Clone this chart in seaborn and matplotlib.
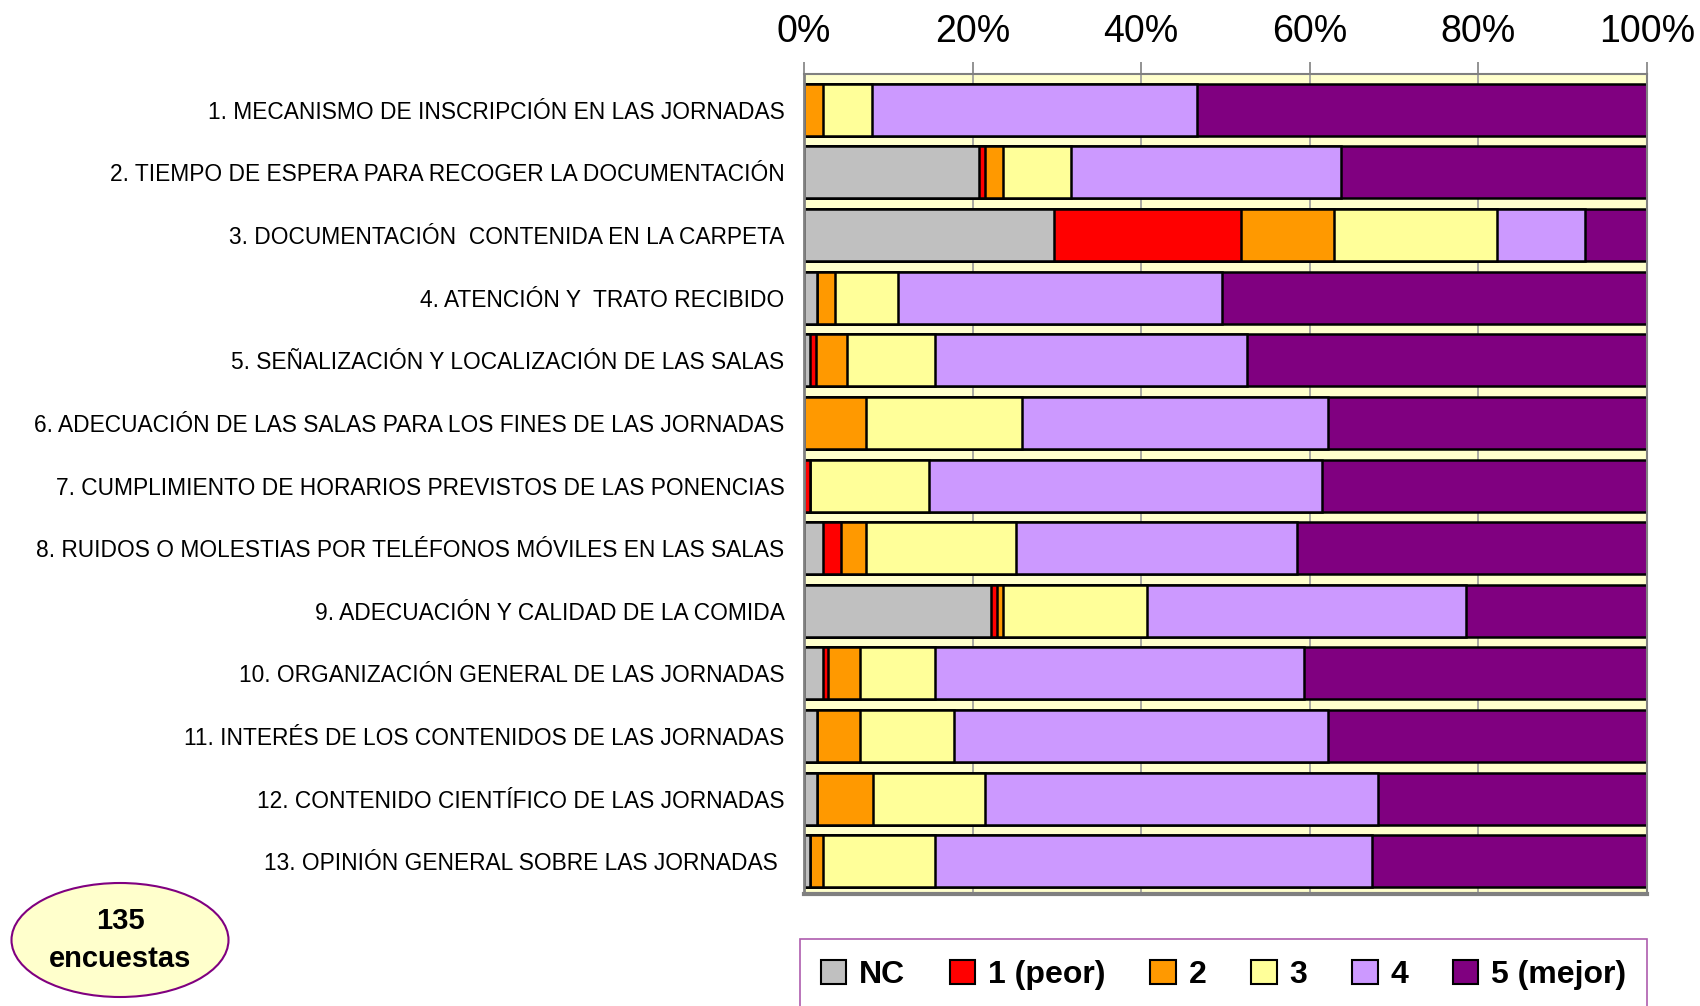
import numpy as np
import pandas as pd
import matplotlib.pyplot as plt
import seaborn as sns
from matplotlib.patches import Ellipse, Patch
from matplotlib.ticker import PercentFormatter

preguntas = [
    '1. MECANISMO DE INSCRIPCIÓN EN LAS JORNADAS',
    '2. TIEMPO DE ESPERA PARA RECOGER LA DOCUMENTACIÓN',
    '3. DOCUMENTACIÓN  CONTENIDA EN LA CARPETA',
    '4. ATENCIÓN Y  TRATO RECIBIDO',
    '5. SEÑALIZACIÓN Y LOCALIZACIÓN DE LAS SALAS',
    '6. ADECUACIÓN DE LAS SALAS PARA LOS FINES DE LAS JORNADAS',
    '7. CUMPLIMIENTO DE HORARIOS PREVISTOS DE LAS PONENCIAS',
    '8. RUIDOS O MOLESTIAS POR TELÉFONOS MÓVILES EN LAS SALAS',
    '9. ADECUACIÓN Y CALIDAD DE LA COMIDA',
    '10. ORGANIZACIÓN GENERAL DE LAS JORNADAS',
    '11. INTERÉS DE LOS CONTENIDOS DE LAS JORNADAS',
    '12. CONTENIDO CIENTÍFICO DE LAS JORNADAS',
    '13. OPINIÓN GENERAL SOBRE LAS JORNADAS ',
]

niveles = ['NC', '1 (peor)', '2', '3', '4', '5 (mejor)']
colores = ['#C0C0C0', '#FF0000', '#FF9900', '#FFFF99', '#CC99FF', '#800080']

# porcentajes (135 encuestas)
nc    = [0.0, 20.7, 29.6, 1.5, 0.7, 0.0, 0.0, 2.2, 22.2, 2.2, 1.5, 1.5, 0.7]
peor  = [0.0, 0.7, 22.2, 0.0, 0.7, 0.0, 0.7, 2.2, 0.7, 0.7, 0.0, 0.0, 0.0]
dos   = [2.2, 2.2, 11.1, 2.2, 3.7, 7.4, 0.0, 3.0, 0.7, 3.7, 5.2, 6.7, 1.5]
tres  = [5.9, 8.1, 19.3, 7.4, 10.4, 18.5, 14.1, 17.8, 17.0, 8.9, 11.1, 13.3, 13.3]
cuat  = [38.5, 31.9, 10.4, 38.5, 37.0, 36.3, 46.7, 33.3, 37.8, 43.7, 44.4, 46.7, 51.9]
mejor = [53.3, 36.3, 7.4, 50.4, 47.4, 37.8, 38.5, 41.5, 21.5, 40.7, 37.8, 31.9, 32.6]

df = pd.DataFrame({'pregunta': preguntas, 'NC': nc, '1 (peor)': peor, '2': dos,
                   '3': tres, '4': cuat, '5 (mejor)': mejor})
cum = df[niveles].cumsum(axis=1)
cum = cum.div(cum['5 (mejor)'], axis=0) * 100

FUENTE = ['Liberation Sans', 'DejaVu Sans']
sns.set_style('white')
plt.rcParams['font.family'] = FUENTE
plt.rcParams['text.color'] = 'black'
plt.rcParams['xtick.labelcolor'] = 'black'
plt.rcParams['ytick.labelcolor'] = 'black'

fig = plt.figure(figsize=(17, 10.06), dpi=100)
ax = fig.add_axes([804/1700, 1 - 894/1006, 843/1700, (894 - 74)/1006])
ax.set_facecolor('#FFFFCC')

for niv, col in reversed(list(zip(niveles, colores))):
    sns.barplot(x=cum[niv], y=df['pregunta'], orient='h', color=col, saturation=1,
                width=0.83, edgecolor='black', linewidth=1.8, ax=ax)

ax.set_xlim(0, 100)
ax.set_ylim(12.52, -0.57)
ax.set_xticks([0, 20, 40, 60, 80, 100])
ax.xaxis.set_major_formatter(PercentFormatter(decimals=0))
ax.xaxis.tick_top()
ax.tick_params(axis='x', labelsize=27, length=9, width=1.2, color='#808080',
               pad=8, direction='out', labelcolor='black')
ax.tick_params(axis='y', labelsize=16.4, length=0, pad=14, labelcolor='black')
ax.grid(axis='x', color='#999999', linewidth=1.2)
ax.set_axisbelow(True)
ax.set_xlabel('')
ax.set_ylabel('')
for s in ax.spines.values():
    s.set_color('#808080')
    s.set_linewidth(1.5)
ax.spines['bottom'].set_linewidth(3)
ax.spines['left'].set_linewidth(2)

handles = [Patch(facecolor=c, edgecolor='black', linewidth=1.5) for c in colores]
leg = fig.legend(handles, niveles, loc='upper left', ncol=6, mode='expand',
                 bbox_to_anchor=(800/1700, 0, 847/1700, 1 - 939/1006),
                 borderaxespad=0, frameon=True, fancybox=False, edgecolor='#993399',
                 prop={'family': FUENTE, 'weight': 'bold', 'size': 23},
                 labelcolor='black',
                 handlelength=0.8, handleheight=0.8, handletextpad=0.4,
                 borderpad=0.65, columnspacing=1.0)
leg.get_frame().set_linewidth(1.2)

elipse = Ellipse((120/1700, 1 - 940/1006), 217/1700, 114/1006,
                 transform=fig.transFigure, facecolor='#FFFFCC',
                 edgecolor='#800080', linewidth=1.5)
fig.add_artist(elipse)
fig.text(120/1700, 1 - 940/1006, '135\nencuestas', ha='center', va='center',
         fontsize=21, fontweight='bold', linespacing=1.45, color='black')

fig.savefig('out.png', dpi=100)
